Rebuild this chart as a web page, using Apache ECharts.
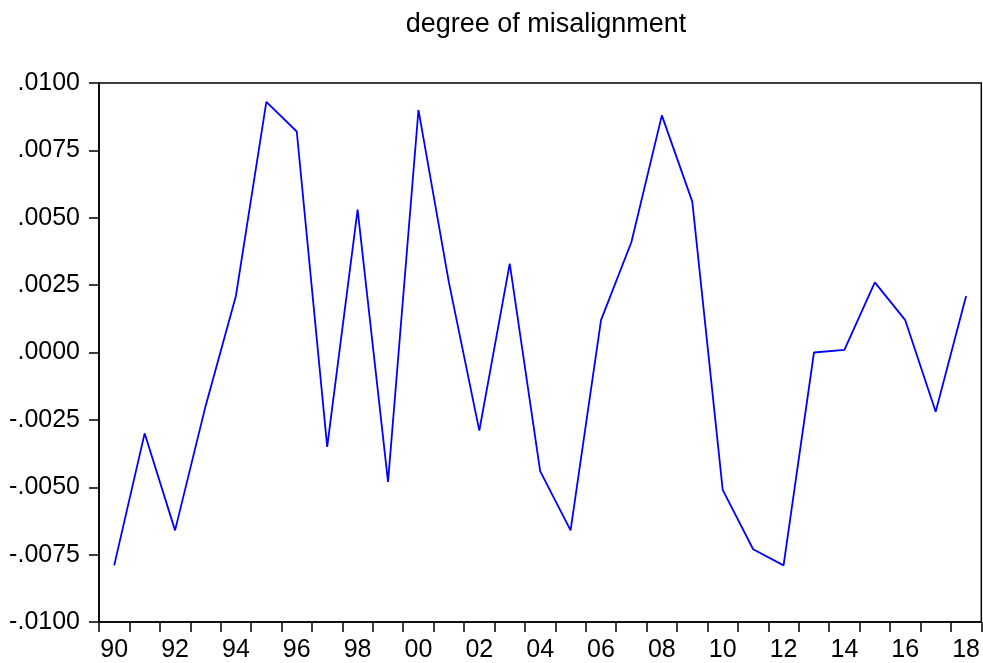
<!DOCTYPE html>
<html>
<head>
<meta charset="utf-8">
<script src="https://cdn.jsdelivr.net/npm/echarts@6/dist/echarts.min.js"></script>
<style>
  html, body { margin: 0; padding: 0; background: #fff; }
  #chart { width: 983px; height: 663px; }
</style>
</head>
<body>
<div id="chart"></div>
<script>
// years 1990..2018, shown as two-digit labels
var years = ["90", "91", "92", "93", "94", "95", "96", "97", "98", "99",
  "00", "01", "02", "03", "04", "05", "06", "07", "08", "09",
  "10", "11", "12", "13", "14", "15", "16", "17", "18"];

var misalignment = [-0.0079, -0.0030, -0.0066, -0.0020, 0.0021, 0.0093, 0.0082, -0.0035, 0.0053, -0.0048,
  0.0090, 0.0026, -0.0029, 0.0033, -0.0044, -0.0066, 0.0012, 0.0041, 0.0088, 0.0056,
  -0.0051, -0.0073, -0.0079, 0.0000, 0.0001, 0.0026, 0.0012, -0.0022, 0.0021];

var chartTitle = "degree of misalignment";

var myChart = echarts.init(document.getElementById("chart"));
var font = "'Liberation Sans', Arial, sans-serif";

var option = {
  animation: false,
  backgroundColor: "#ffffff",
  title: {
    text: chartTitle,
    left: 541,
    top: 6,
    textAlign: "center",
    textStyle: { fontFamily: font, fontSize: 27, fontWeight: "normal", color: "#000" }
  },
  grid: {
    left: 99,
    right: 1,
    top: 83,
    bottom: 39,
    show: true,
    borderColor: "#000",
    borderWidth: 1.5,
    containLabel: false
  },
  xAxis: {
    type: "category",
    data: years,
    boundaryGap: true,
    axisLine: { show: true, onZero: false, lineStyle: { color: "#000", width: 1.5 } },
    axisTick: { show: true, interval: 0, length: 10, lineStyle: { color: "#000", width: 1.5 } },
    axisLabel: { interval: 1, margin: 16, fontFamily: font, fontSize: 25, color: "#000" },
    splitLine: { show: false }
  },
  yAxis: {
    type: "value",
    position: "left",
    min: -0.01,
    max: 0.01,
    interval: 0.0025,
    axisLine: { show: true, onZero: false, lineStyle: { color: "#000", width: 1.5 } },
    axisTick: { show: true, inside: false, length: 10, lineStyle: { color: "#000", width: 1.5 } },
    axisLabel: {
      margin: 19,
      fontFamily: font,
      fontSize: 25,
      color: "#000",
      formatter: function (v) {
        var s = Math.abs(v).toFixed(4).replace(/^0/, "");
        return (v < -1e-12 ? "-" : "") + s;
      }
    },
    splitLine: { show: false }
  },
  series: [
    {
      type: "line",
      data: misalignment,
      showSymbol: false,
      symbol: "none",
      lineStyle: { color: "#0000ff", width: 1.8 }
    }
  ]
};

myChart.setOption(option);
</script>
</body>
</html>
